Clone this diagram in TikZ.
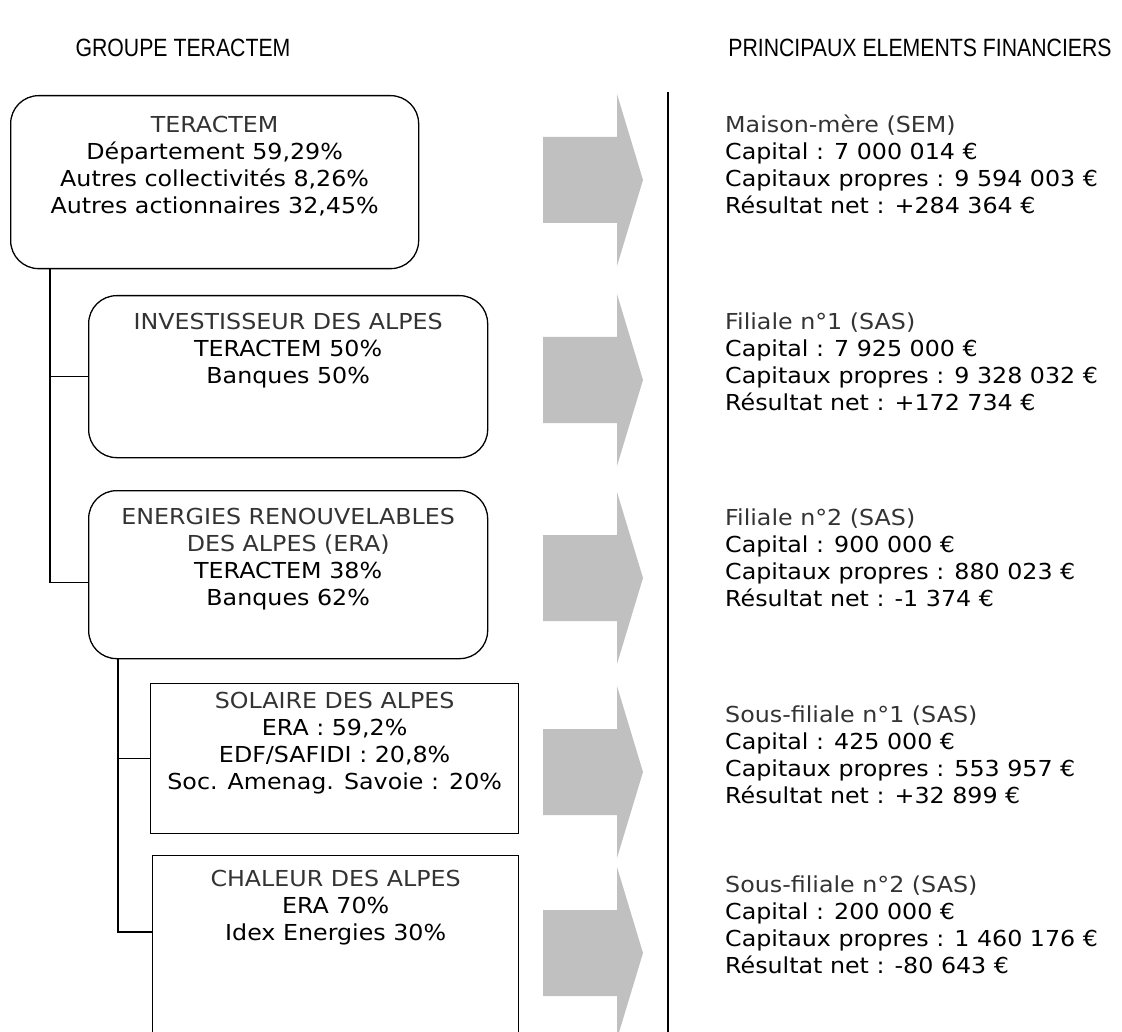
\documentclass[tikz,border=0pt]{standalone}
\usepackage{fontspec}
\setmainfont[FakeStretch=1.08]{DejaVu Sans}
\newfontfamily\headfont[FakeStretch=0.85]{Liberation Sans}
\usetikzlibrary{positioning}
\definecolor{arrowgray}{HTML}{C0C0C0}
\definecolor{softblack}{HTML}{333333}

\begin{document}
\begin{tikzpicture}[x=1pt,y=-1pt]
        \tikzset{roundbox/.style = {draw, line width=1.3pt, rounded corners=28pt, anchor=north west, inner sep=0pt}}
        \tikzset{squarebox/.style = {draw, line width=1.3pt, anchor=north west, inner sep=0pt}}
        \tikzset{boxtext/.style = {align=center, inner sep=0pt, font=\fontsize{22}{27}\selectfont}}
        \tikzset{fintext/.style = {align=left, anchor=north west, inner sep=0pt, font=\fontsize{22}{27}\selectfont}}
        \tikzset{link/.style = {line width=1.3pt}}
        \newcommand{\firstline}[1]{\textcolor{softblack}{#1}}
        \useasboundingbox (0,0) rectangle (1122,1032);
        \clip (0,0) rectangle (1122,1032);
        % titles
        \node[font=\headfont\fontsize{25}{30}\selectfont] (grouptitle) at (183,48) {GROUPE TERACTEM};
        \node[font=\headfont\fontsize{25}{30}\selectfont] (fintitle) at (920,48) {PRINCIPAUX ELEMENTS FINANCIERS};
        % boxes on the left
        \node[roundbox, minimum width=408, minimum height=173] (teractem) at (10,95) {};
        \node[roundbox, minimum width=399, minimum height=162] (invest) at (88,295) {};
        \node[roundbox, minimum width=399, minimum height=168] (era) at (88,490) {};
        \node[squarebox, minimum width=368, minimum height=150] (solaire) at (150,683) {};
        \node[squarebox, minimum width=366, minimum height=200] (chaleur) at (152,855) {};
        \node[boxtext, below=21pt of teractem.north] (teractemtxt) {\firstline{TERACTEM}\\D\'epartement 59,29\%\\Autres collectivit\'es 8,26\%\\Autres actionnaires 32,45\%};
        \node[boxtext, below=18pt of invest.north] (investtxt) {\firstline{INVESTISSEUR DES ALPES}\\TERACTEM 50\%\\Banques 50\%};
        \node[boxtext, below=18pt of era.north] (eratxt) {\firstline{ENERGIES RENOUVELABLES}\\\firstline{DES ALPES (ERA)}\\TERACTEM 38\%\\Banques 62\%};
        \node[boxtext, below=9pt of solaire.north] (solairetxt) {\firstline{SOLAIRE DES ALPES}\\ERA : 59,2\%\\EDF/SAFIDI : 20,8\%\\Soc. Amenag. Savoie : 20\%};
        \node[boxtext, below=15pt of chaleur.north] (chaleurtxt) {\firstline{CHALEUR DES ALPES}\\ERA 70\%\\Idex Energies 30\%};
        % links between the companies
        \draw[link] ([xshift=40pt]teractem.south west) |- (invest.west);
        \draw[link] ([xshift=40pt]teractem.south west) |- ([yshift=-8pt]era.west);
        \draw[link] ([xshift=30pt]era.south west) |- (solaire.west);
        \draw[link] ([xshift=30pt]era.south west) |- ([yshift=-77pt]chaleur.north west);
        % gray arrows and separator
        \foreach \ay in {180,380,578,772,953}
          \fill[arrowgray] (543,\ay-43) -- (617,\ay-43) -- (617,\ay-86) -- (643,\ay)
            -- (617,\ay+86) -- (617,\ay+43) -- (543,\ay+43) -- cycle;
        \draw[link] (668,92) -- (668,1032);
        % financial figures
        \node[fintext] (semfig) at (725,115) {\firstline{Maison-m\`ere (SEM)}\\Capital : 7 000 014 €\\Capitaux propres : 9 594 003 €\\R\'esultat net : +284 364 €};
        \node[fintext] (investfig) at (725,313) {\firstline{Filiale n°1 (SAS)}\\Capital : 7 925 000 €\\Capitaux propres : 9 328 032 €\\R\'esultat net : +172 734 €};
        \node[fintext] (erafig) at (725,509) {\firstline{Filiale n°2 (SAS)}\\Capital : 900 000 €\\Capitaux propres : 880 023 €\\R\'esultat net : -1 374 €};
        \node[fintext] (solairefig) at (725,706) {\firstline{Sous-filiale n°1 (SAS)}\\Capital : 425 000 €\\Capitaux propres : 553 957 €\\R\'esultat net : +32 899 €};
        \node[fintext] (chaleurfig) at (725,876) {\firstline{Sous-filiale n°2 (SAS)}\\Capital : 200 000 €\\Capitaux propres : 1 460 176 €\\R\'esultat net : -80 643 €};
\end{tikzpicture}
\end{document}
